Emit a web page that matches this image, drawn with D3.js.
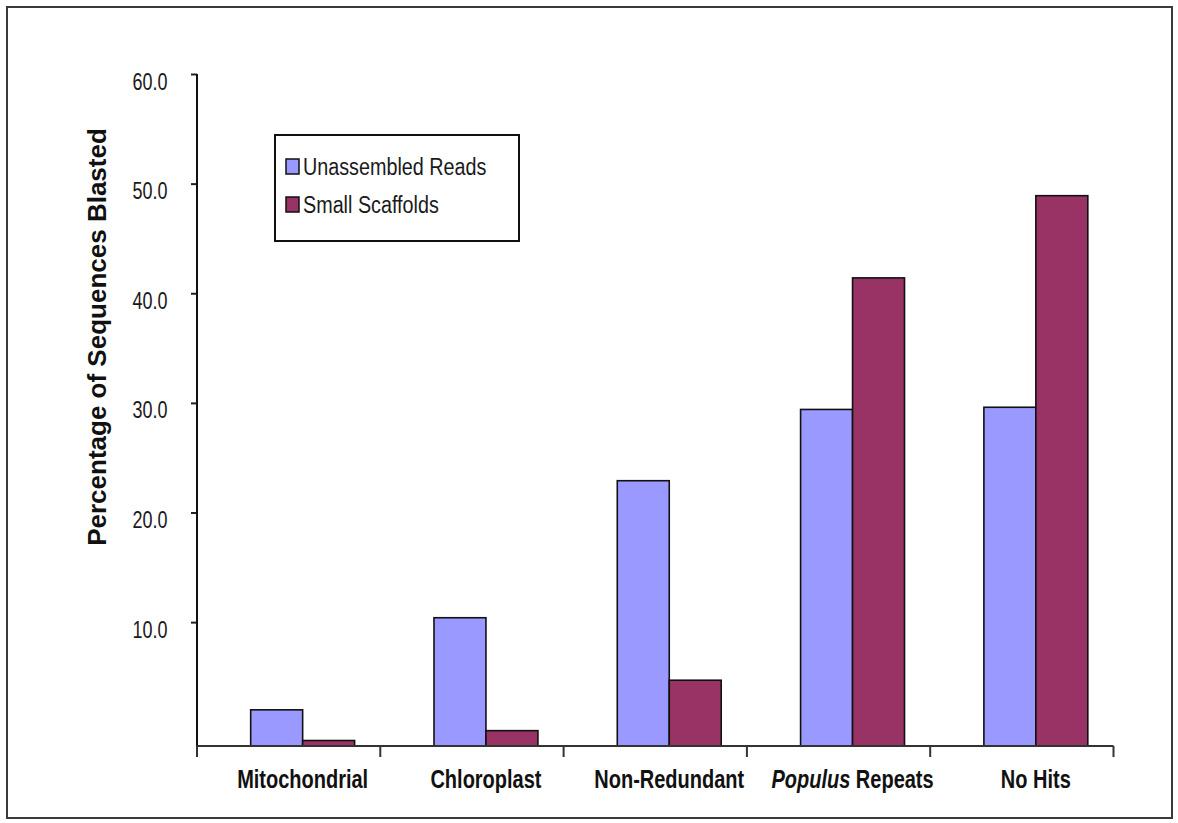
<!DOCTYPE html>
<html>
<head>
<meta charset="utf-8">
<script src="https://cdn.jsdelivr.net/npm/d3@7"></script>
<style>
  html, body { margin: 0; padding: 0; background: #fff; }
  svg { display: block; }
</style>
</head>
<body>
<svg id="chart" width="1178" height="823"></svg>
<script>
const categories = ["Mitochondrial", "Chloroplast", "Non-Redundant", "Populus Repeats", "No Hits"];
const seriesNames = ["Unassembled Reads", "Small Scaffolds"];
const unassembledReads = [2.0, 10.4, 22.9, 29.4, 29.6];
const smallScaffolds = [-0.8, 0.1, 4.7, 41.4, 48.9];
const yTicks = [10, 20, 30, 40, 50, 60];
const yMin = -1.3, yMax = 60;
const colors = ["#9999FF", "#993366"];

(function () {
const svg = d3.select("#chart");
const sans = '"Liberation Sans", Arial, sans-serif';

// outer frame
svg.append("rect").attr("x", 7).attr("y", 7).attr("width", 1165).attr("height", 811)
  .attr("fill", "#fff").attr("stroke", "#3a3a3a").attr("stroke-width", 2);

const pLeft = 197, pRight = 1113.5, pTop = 74, pBottom = 746;
const barShift = 14;

const x = d3.scaleBand().domain(categories).range([pLeft + barShift, pRight + barShift])
  .paddingInner(0.433).paddingOuter(0.2165);
const xs = d3.scaleBand().domain(seriesNames).range([0, x.bandwidth()]).padding(0);
const y = d3.scaleLinear().domain([yMin, yMax]).range([pBottom, pTop]);

const data = categories.map((c, i) => ({ cat: c, vals: [unassembledReads[i], smallScaffolds[i]] }));

// bars
const g = svg.append("g");
data.forEach(d => {
  d.vals.forEach((v, j) => {
    g.append("rect")
      .attr("x", x(d.cat) + xs(seriesNames[j]))
      .attr("y", y(v))
      .attr("width", xs.bandwidth())
      .attr("height", y(yMin) - y(v))
      .attr("fill", colors[j])
      .attr("stroke", "#111")
      .attr("stroke-width", 1.6);
  });
});

// y axis
const yAxis = d3.axisLeft(y).tickValues(yTicks).tickSize(6).tickFormat(d3.format(".1f"));
const ya = svg.append("g").attr("transform", `translate(${pLeft},0)`).call(yAxis);
ya.select(".domain").remove();
ya.selectAll(".tick line").attr("stroke", "#222").attr("stroke-width", 2);
ya.selectAll(".tick text")
  .attr("x", null).attr("dy", null)
  .attr("transform", "translate(-29.5,15) scale(0.75,1)")
  .attr("text-anchor", "end")
  .style("font-family", sans).style("font-size", "24px").attr("fill", "#1a1a1a");
svg.append("line").attr("x1", pLeft).attr("x2", pLeft).attr("y1", pTop).attr("y2", 757)
  .attr("stroke", "#111").attr("stroke-width", 2);

// x axis
svg.append("line").attr("x1", pLeft).attr("x2", pRight).attr("y1", pBottom).attr("y2", pBottom)
  .attr("stroke", "#333").attr("stroke-width", 2);
const step = x.step();
const boundaries = d3.range(categories.length + 1).map(i => pLeft + i * step);
svg.selectAll(".xtick").data(boundaries).enter().append("line")
  .attr("x1", d => d).attr("x2", d => d).attr("y1", pBottom).attr("y2", 757)
  .attr("stroke", "#333").attr("stroke-width", 2);

// x labels
categories.forEach(c => {
  const cx = x(c) + x.bandwidth() / 2;
  const t = svg.append("text")
    .attr("transform", `translate(${cx},788) scale(0.8,1)`)
    .attr("text-anchor", "middle")
    .style("font-family", sans).style("font-size", "25px").style("font-weight", "bold")
    .attr("fill", "#111");
  if (c === "Populus Repeats") {
    t.append("tspan").style("font-style", "italic").text("Populus");
    t.append("tspan").text(" Repeats");
  } else {
    t.text(c);
  }
});

// y axis title
svg.append("text")
  .attr("transform", "translate(106,337) rotate(-90)")
  .attr("text-anchor", "middle")
  .style("font-family", sans).style("font-size", "26px").style("font-weight", "bold")
  .attr("fill", "#111")
  .text("Percentage of Sequences Blasted");

// legend
const lg = svg.append("g");
lg.append("rect").attr("x", 275).attr("y", 135).attr("width", 244).attr("height", 106)
  .attr("fill", "#fff").attr("stroke", "#111").attr("stroke-width", 2);
seriesNames.forEach((s, i) => {
  const yy = 159 + i * 38;
  lg.append("rect").attr("x", 286).attr("y", yy).attr("width", 13).attr("height", 15)
    .attr("fill", colors[i]).attr("stroke", "#111").attr("stroke-width", 1.5);
  lg.append("text").attr("transform", `translate(303,${yy + 16}) scale(0.8,1)`)
    .style("font-family", sans).style("font-size", "24.7px").attr("fill", "#1a1a1a").text(s);
});
})();
</script>
</body>
</html>
